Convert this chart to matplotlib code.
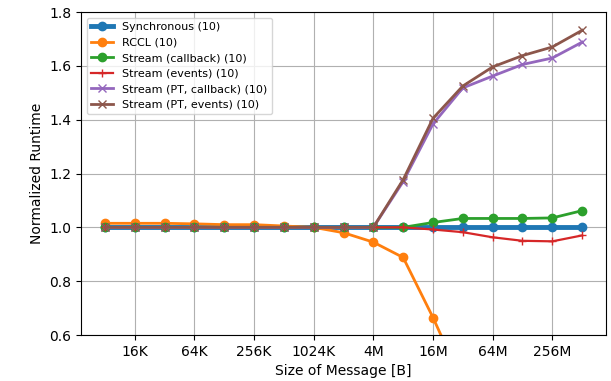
import matplotlib
matplotlib.use("Agg")
import matplotlib.pyplot as plt
import numpy as np
from matplotlib.ticker import FixedLocator, FixedFormatter, NullLocator

sizes_exp = list(range(13, 30))  # 8K .. 512M (log2 bytes)
tick_exps = [14, 16, 18, 20, 22, 24, 26, 28]
tick_labels = ["16K", "64K", "256K", "1024K", "4M", "16M", "64M", "256M"]

synchronous = [1.0] * 17
rccl = [1.015, 1.015, 1.015, 1.013, 1.010, 1.010, 1.005, 1.0, 0.98, 0.945, 0.888, 0.665,
        0.42, 0.30, 0.25, 0.22, 0.20]
stream_cb = [1.0, 1.0, 1.0, 1.0, 1.0, 1.0, 1.0, 1.0, 1.0, 1.0, 1.0, 1.018, 1.033, 1.033,
             1.033, 1.035, 1.062]
stream_ev = [1.0, 1.0, 1.0, 1.0, 1.0, 1.0, 1.0, 1.0, 1.0, 1.0, 1.0, 0.992, 0.982, 0.963,
             0.95, 0.948, 0.97]
pt_cb = [1.0, 1.0, 1.0, 1.0, 1.0, 1.0, 1.0, 1.0, 1.0, 1.0, 1.17, 1.384, 1.518, 1.562,
         1.605, 1.629, 1.688]
pt_ev = [1.0, 1.0, 1.0, 1.0, 1.0, 1.0, 1.0, 1.0, 1.0, 1.0, 1.177, 1.405, 1.525, 1.596,
         1.638, 1.67, 1.732]

x = [2.0 ** e for e in sizes_exp]

fig = plt.figure(figsize=(6.11, 3.81), dpi=100)
ax = fig.add_axes([0.1326, 0.1207, 0.8592, 0.8478])

ax.plot(x, synchronous, marker='o', color='#1f77b4', lw=3.5, ms=6, label='Synchronous (10)')
ax.plot(x, rccl, marker='o', color='#ff7f0e', lw=2, ms=6, label='RCCL (10)')
ax.plot(x, stream_cb, marker='o', color='#2ca02c', lw=2, ms=6, label='Stream (callback) (10)')
ax.plot(x, stream_ev, marker='+', color='#d62728', lw=1.6, ms=6, label='Stream (events) (10)')
ax.plot(x, pt_cb, marker='x', color='#9467bd', lw=2, ms=6, label='Stream (PT, callback) (10)')
ax.plot(x, pt_ev, marker='x', color='#8c564b', lw=2, ms=6, label='Stream (PT, events) (10)')

ax.set_xscale('log', base=2)
ax.xaxis.set_major_locator(FixedLocator([2.0 ** e for e in tick_exps]))
ax.xaxis.set_major_formatter(FixedFormatter(tick_labels))
ax.xaxis.set_minor_locator(NullLocator())
ax.set_ylim(0.6, 1.8)
ax.set_yticks([0.6, 0.8, 1.0, 1.2, 1.4, 1.6, 1.8])
ax.grid(True)
ax.set_xlabel('Size of Message [B]')
ax.set_ylabel('Normalized Runtime')
ax.legend(loc='upper left', fontsize=8)

fig.savefig('out.png', dpi=100)
